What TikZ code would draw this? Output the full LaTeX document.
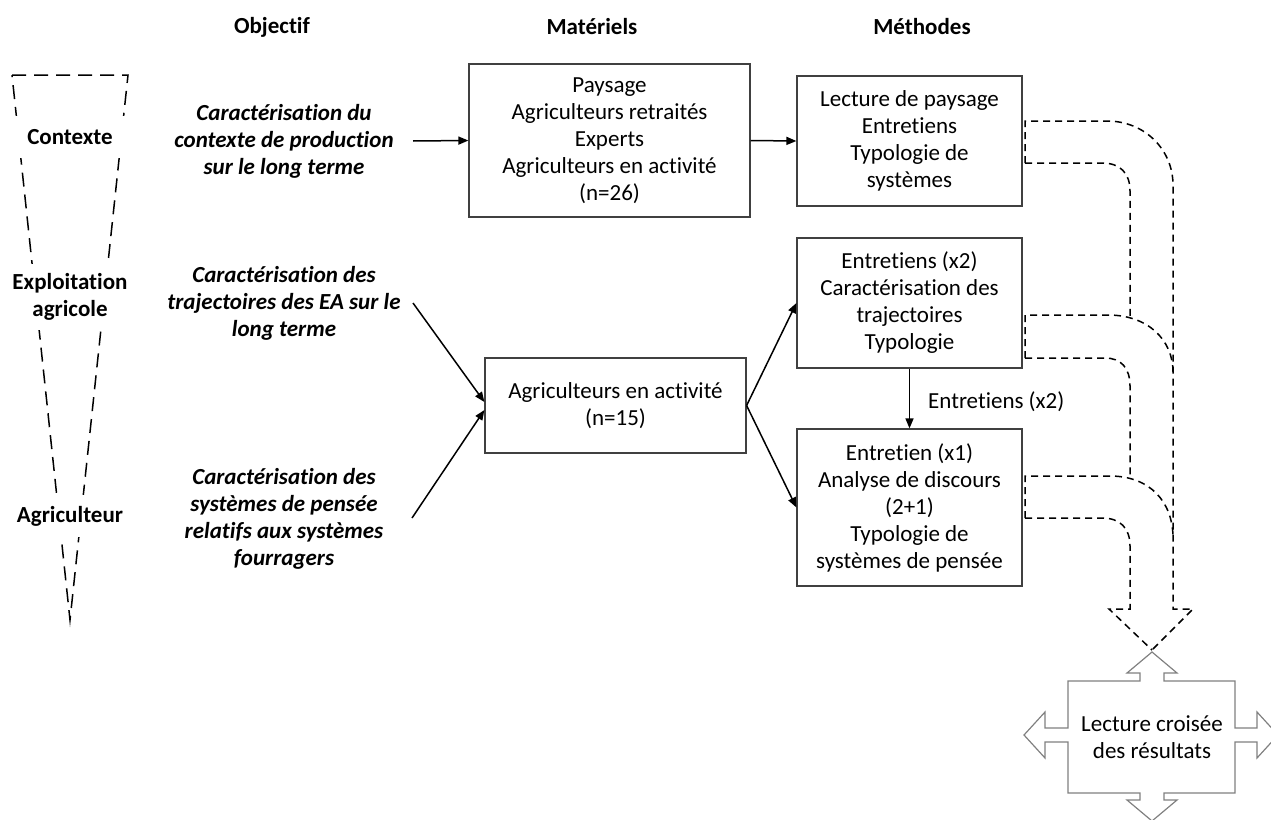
\documentclass[tikz,border=0pt]{standalone}
\usepackage{fontspec}
\setmainfont{Carlito}[Ligatures=NoCommon]
\usetikzlibrary{arrows.meta}
\begin{document}
\begin{tikzpicture}[x=1pt,y=-1pt,
  txt/.style={font=\fontsize{23}{27}\selectfont, align=center, inner sep=0pt},
  hdr/.style={txt, font=\fontsize{23}{27}\selectfont\bfseries},
  obj/.style={txt, font=\fontsize{23}{27}\selectfont\bfseries\itshape},
  lvl/.style={hdr, fill=white, minimum width=124pt},
  box/.style={draw=black!75, line width=1.2pt, txt, minimum width=225pt},
  arr/.style={-{Triangle[length=10pt,width=8pt]}, line width=1.5pt},
  tri/.style={dash pattern=on 14pt off 8pt, line width=1.5pt},
  dsh/.style={dash pattern=on 7pt off 5pt, line width=1.5pt},
  crossline/.style={draw=black!50, line width=1.2pt}]
\useasboundingbox (0,0) rectangle (1271,819);

% headers
\node[hdr] (h1) at (272,27) {Objectif};
\node[hdr] (h2) at (592,27) {Matériels};
\node[hdr] (h3) at (922,27) {Méthodes};

% dashed triangle with levels
\coordinate (t1) at (12,75);
\coordinate (t2) at (128,75);
\coordinate (t3) at (70,620);
\draw[tri] (t1) -- (t2) -- (t3) -- cycle;
\node[lvl, minimum height=42pt] (ctx) at (70,137) {Contexte};
\node[lvl, minimum height=66pt] (ea) at (70,297) {Exploitation\\agricole};
\node[lvl, minimum height=42pt] (agr) at (70,516) {Agriculteur};

% objectives
\node[obj] (o1) at (284,141) {Caractérisation du\\contexte de production\\sur le long terme};
\node[obj] (o2) at (284,303) {Caractérisation des\\trajectoires des EA sur le\\long terme};
\node[obj] (o3) at (284,519) {Caractérisation des\\systèmes de pensée\\relatifs aux systèmes\\fourragers};

% boxes
\node[box, minimum width=281pt, minimum height=153pt] (m1) at (609.5,140.5)
  {Paysage\\Agriculteurs retraités\\Experts\\Agriculteurs en activité\\(n=26)};
\node[box, minimum height=130pt] (me1) at (909.5,141)
  {Lecture de paysage\\Entretiens\\Typologie de\\systèmes};
\node[box, minimum width=261pt, minimum height=95pt] (m2) at (615.5,405.5)
  {Agriculteurs en activité\\(n=15)};
\node[box, minimum height=130pt] (me2) at (909.5,303)
  {Entretiens (x2)\\Caractérisation des\\trajectoires\\Typologie};
\node[box, minimum height=157pt] (me3) at (909.5,507.5)
  {Entretien (x1)\\Analyse de discours\\(2+1)\\Typologie de\\systèmes de pensée};

% arrows
\coordinate (a1) at (413,141);
\coordinate (a2) at (413,303);
\coordinate (a3) at (412,518);
\draw[arr] (a1) -- (m1.west);
\draw[arr] (a2) -- ([yshift=3.5pt]m2.west);
\draw[arr] (a3) -- ([yshift=-4.5pt]m2.west);
\draw[arr] (m1.east) -- (me1.west);
\draw[arr] (m2.east) -- (me2.west);
\draw[arr] (m2.east) -- (me3.west);
\draw[arr] (me2.south) -- (me3.north);
\node[txt, anchor=west] (lb) at (928,402) {Entretiens (x2)};

% dashed curved block arrows
\draw[dsh] (1025,163) -- (1025,121) -- (1107,121) .. controls (1145,121) and (1173,150) .. (1173,185)
  -- (1173,609) -- (1193,609) -- (1152,650);
\draw[dsh] (1025,163) -- (1102,163) .. controls (1120,163) and (1130,173) .. (1130,191) -- (1130,318);
\draw[dsh] (1025,358) -- (1025,315) -- (1108,315) .. controls (1148,315) and (1173,340) .. (1173,372);
\draw[dsh] (1025,358) -- (1105,358) .. controls (1121,358) and (1130,368) .. (1130,386) -- (1130,478);
\draw[dsh] (1025,518) -- (1025,476) -- (1110,476) .. controls (1150,476) and (1173,502) .. (1173,538);
\draw[dsh] (1025,518) -- (1102,518) .. controls (1120,518) and (1130,528) .. (1130,546)
  -- (1130,609) -- (1109,609) -- (1152,650);

% four-way arrow
\draw[crossline] (1152,652) -- (1177,673) -- (1164,673) -- (1164,681) -- (1235,681) -- (1235,728)
  -- (1257,728) -- (1257,712) -- (1278,735) -- (1257,758) -- (1257,742) -- (1235,742) -- (1235,793)
  -- (1164,793) -- (1164,800) -- (1177,800) -- (1152,821) -- (1127,800) -- (1140,800) -- (1140,793)
  -- (1068,793) -- (1068,742) -- (1045,742) -- (1045,758) -- (1024,735) -- (1045,712) -- (1045,728)
  -- (1068,728) -- (1068,681) -- (1140,681) -- (1140,673) -- (1127,673) -- cycle;
\node[txt] (lc) at (1152,737) {Lecture croisée\\des résultats};
\end{tikzpicture}
\end{document}
